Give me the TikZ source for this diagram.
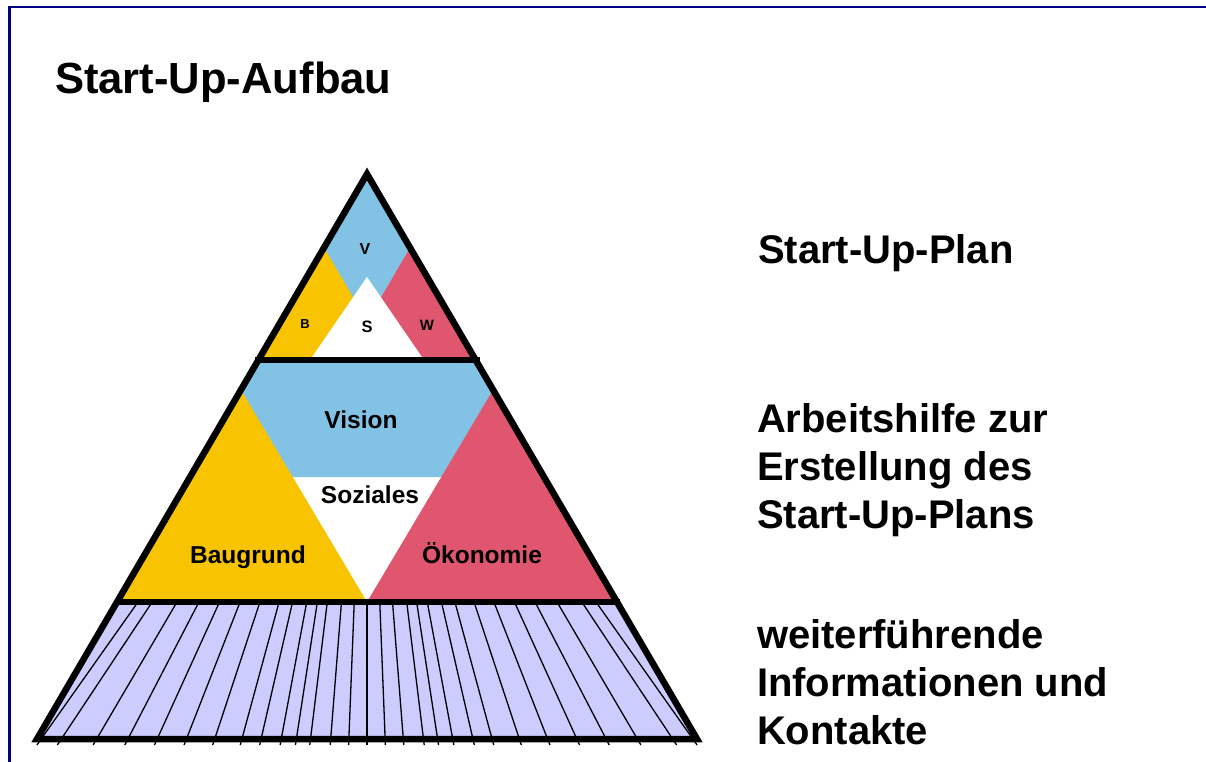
\documentclass[tikz,border=0pt]{standalone}
\usepackage{fontspec}
\setmainfont{Liberation Sans}
\begin{document}
\begin{tikzpicture}[x=1pt,y=-1pt,
  lbl/.style={inner sep=0pt,outer sep=0pt,font=\bfseries},
  side/.style={lbl,anchor=base west,font=\fontsize{40}{48}\selectfont\bfseries},
  big/.style={lbl,anchor=base,font=\fontsize{24.5}{29}\selectfont\bfseries},
  outline/.style={line width=6.5pt,line join=miter,miter limit=10}]
\definecolor{frameblue}{HTML}{000080}
\definecolor{visionblue}{HTML}{82C3E5}
\definecolor{baugold}{HTML}{F8C300}
\definecolor{oekored}{HTML}{E0566E}
\definecolor{baselav}{HTML}{CCCCFF}
\useasboundingbox (0,0) rectangle (1206,762);

% page frame
\draw[frameblue,line width=2.5pt] (9.5,762) -- (9.5,7) -- (1206,7);

% pyramid corners
\coordinate (apex) at (367,174);
\coordinate (bl) at (37,739);
\coordinate (br) at (697,739);
\coordinate (l1) at (258.4,360);
\coordinate (r1) at (475.6,360);
\coordinate (l2) at (117,602);
\coordinate (r2) at (617,602);

% top level: Start-Up-Plan
\fill[visionblue] (apex) -- (l1) -- (r1) -- cycle;
\fill[baugold] (l1) -- (324,247.5) -- (389.7,360) -- cycle;
\fill[oekored] (344.5,360) -- (410,247.8) -- (r1) -- cycle;
\fill[white] (367,277) -- (310,360) -- (424,360) -- cycle;

% middle level
\fill[visionblue] (l1) -- (r1) -- (544,477) -- (190,477) -- cycle;
\fill[baugold] (l2) -- (241,390) -- (367,602) -- cycle;
\fill[oekored] (367,602) -- (493,390) -- (r2) -- cycle;

% base level with fanned lines
\fill[baselav] (l2) -- (r2) -- (br) -- (bl) -- cycle;
\foreach \d in {0,18,36,56,70,85,105,124,151,179,208,237,268,303,323}{
  \draw[line width=1.3pt] (367+0.709*\d,602) -- (367+1.022*\d,745);
  \draw[line width=1.3pt] (367-0.709*\d,602) -- (367-1.022*\d,745);
}

% outlines
\draw[outline] (apex) -- (bl) -- (br) -- cycle;
\draw[outline] ([xshift=-3pt]l1) -- ([xshift=4pt]r1);
\draw[outline] ([xshift=-2pt]l2) -- ([xshift=3pt]r2);

% labels in the pyramid
\node[lbl,anchor=base,font=\fontsize{16}{19}\selectfont\bfseries] (v) at (365,254) {V};
\node[lbl,anchor=base,font=\fontsize{16.5}{19}\selectfont\bfseries] (s) at (367,332) {S};
\node[lbl,anchor=base,font=\fontsize{13}{15}\selectfont\bfseries] (b) at (305,328) {B};
\node[lbl,anchor=base,font=\fontsize{15}{18}\selectfont\bfseries] (w) at (427,330) {W};
\node[big] (vision) at (361,428) {Vision};
\node[big] (soziales) at (370,503) {Soziales};
\node[big] (baugrund) at (248,563) {Baugrund};
\node[big] (oekonomie) at (482,563) {Ökonomie};

% title and level descriptions
\node[lbl,anchor=base west,font=\fontsize{43.6}{52}\selectfont\bfseries] (title) at (55,94) {Start-Up-Aufbau};
\node[side] (plan) at (758,263) {Start-Up-Plan};
\node[side] (help1) at (757,432) {Arbeitshilfe zur};
\node[side] (help2) at (757,480) {Erstellung des};
\node[side] (help3) at (757,528) {Start-Up-Plans};
\node[side] (info1) at (757,648) {weiterführende};
\node[side] (info2) at (757,696) {Informationen und};
\node[side] (info3) at (757,744) {Kontakte};
\end{tikzpicture}
\end{document}
